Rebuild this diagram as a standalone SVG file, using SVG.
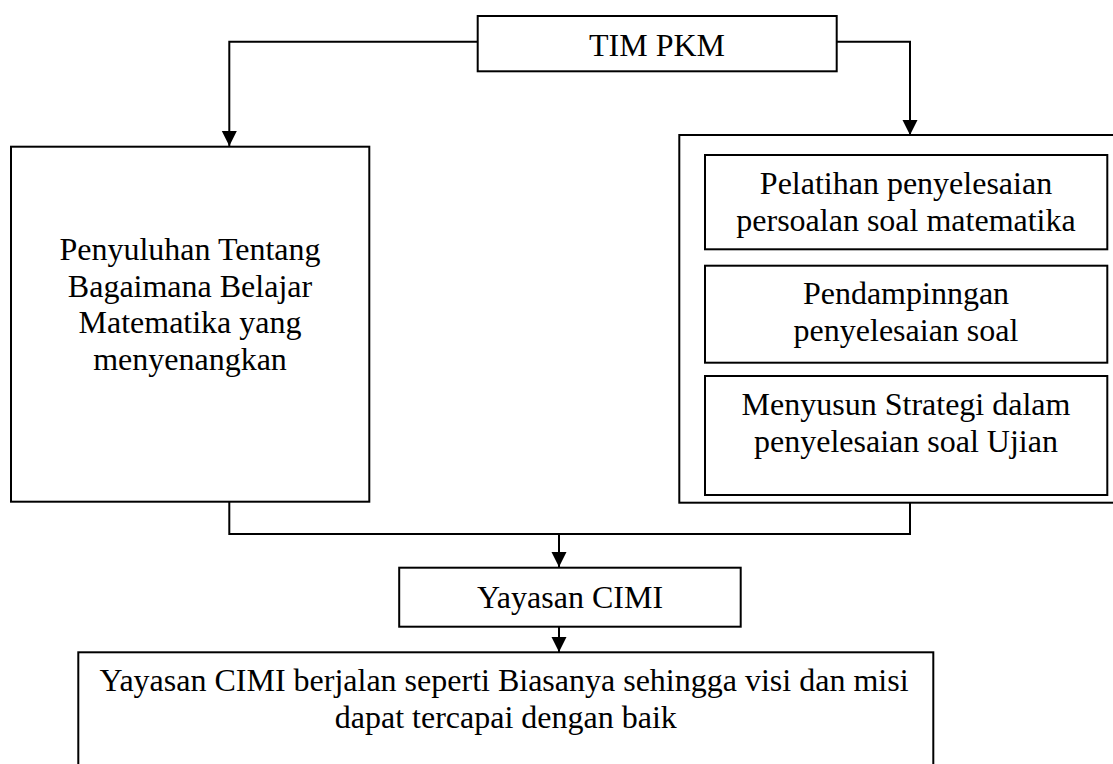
<svg xmlns="http://www.w3.org/2000/svg" width="1113" height="764" viewBox="0 0 1113 764">
<style>
.box{fill:#fff;stroke:#000;stroke-width:2}
.t{font-family:"Liberation Serif","Times New Roman",serif;font-size:32px;fill:#000;text-anchor:middle}
.c{fill:none;stroke:#000;stroke-width:2}
</style>
<defs>
<marker id="arr" markerUnits="userSpaceOnUse" markerWidth="16" markerHeight="16" refX="15" refY="7.5" orient="auto">
<path d="M0,0 L15,7.5 L0,15 z" fill="#000"/>
</marker>
</defs>
<rect width="1113" height="764" fill="#fff"/>
<g id="connectors">
<polyline class="c" points="477.7,41.7 229.3,41.7 229.3,146" marker-end="url(#arr)"/>
<polyline class="c" points="836.7,41.7 910,41.7 910,135" marker-end="url(#arr)"/>
<polyline class="c" points="229.3,502 229.3,534 910,534 910,503"/>
<line class="c" x1="559" y1="534" x2="559" y2="567" marker-end="url(#arr)"/>
<line class="c" x1="559" y1="627" x2="559" y2="652" marker-end="url(#arr)"/>
</g>
<g id="tim-pkm">
<rect class="box" x="477.7" y="16" width="359" height="55.3"/>
<text class="t" x="657" y="56">TIM PKM</text>
</g>
<g id="penyuluhan">
<rect class="box" x="11" y="146.7" width="358.3" height="355"/>
<text class="t" x="190" y="260">Penyuluhan Tentang</text>
<text class="t" x="190" y="296.7">Bagaimana Belajar</text>
<text class="t" x="190" y="333.3">Matematika yang</text>
<text class="t" x="190" y="370.3">menyenangkan</text>
</g>
<g id="kegiatan">
<rect class="box" x="679.3" y="135" width="440" height="367.7"/>
</g>
<g id="pelatihan">
<rect class="box" x="705" y="155" width="402.3" height="94.3"/>
<text class="t" x="906" y="194">Pelatihan penyelesaian</text>
<text class="t" x="906" y="230.5">persoalan soal matematika</text>
</g>
<g id="pendampingan">
<rect class="box" x="705" y="265.7" width="402.3" height="97"/>
<text class="t" x="906" y="304.3">Pendampinngan</text>
<text class="t" x="906" y="340.7">penyelesaian soal</text>
</g>
<g id="strategi">
<rect class="box" x="705" y="376" width="402.3" height="119"/>
<text class="t" x="906" y="415">Menyusun Strategi dalam</text>
<text class="t" x="906" y="452">penyelesaian soal Ujian</text>
</g>
<g id="yayasan">
<rect class="box" x="399.2" y="567.7" width="341.5" height="59"/>
<text class="t" x="570" y="608.3">Yayasan CIMI</text>
</g>
<g id="hasil">
<rect class="box" x="78.3" y="652.3" width="855" height="130"/>
<text class="t" x="504" y="691">Yayasan CIMI berjalan seperti Biasanya sehingga visi dan misi</text>
<text class="t" x="505.8" y="728">dapat tercapai dengan baik</text>
</g>
</svg>
